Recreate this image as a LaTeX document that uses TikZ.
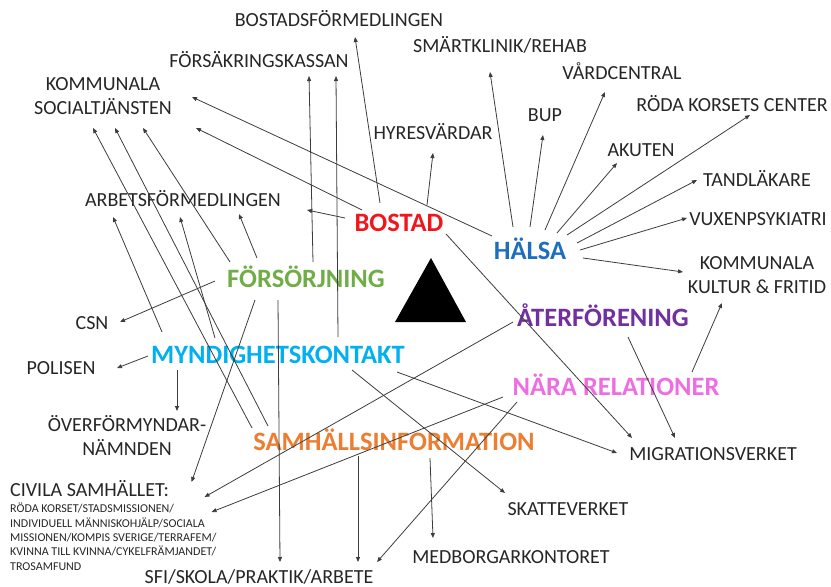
\documentclass[tikz,border=0pt]{standalone}
\usepackage{fontspec}
\setmainfont{Carlito}
\usetikzlibrary{arrows.meta}
\definecolor{labelgray}{RGB}{38,38,38}
\definecolor{linegray}{RGB}{60,60,60}
\definecolor{cbostad}{RGB}{240,22,30}
\definecolor{chalsa}{RGB}{30,110,190}
\definecolor{cfors}{RGB}{112,173,71}
\definecolor{cmynd}{RGB}{0,176,240}
\definecolor{cater}{RGB}{112,48,160}
\definecolor{cnara}{RGB}{238,110,226}
\definecolor{csamh}{RGB}{237,125,49}
\tikzset{
  lbl/.style={font=\fontsize{20}{24}\selectfont, text=labelgray, inner sep=0pt, text height=13pt, text depth=0pt},
  lbltwo/.style={font=\fontsize{20}{24}\selectfont, text=labelgray, inner sep=0pt, align=center},
  hub/.style={font=\bfseries\fontsize{26.5}{30}\selectfont, inner sep=0pt, text height=17pt, text depth=0pt},
  arr/.style={draw=linegray, line width=0.8pt, -{Triangle[length=5pt,width=4pt]}}
}
\begin{document}
\begin{tikzpicture}[x=1pt,y=-1pt]
\useasboundingbox (0,0) rectangle (831,587);
% labels
\node[lbl] (bfm) at (339,20) {BOSTADSFÖRMEDLINGEN};
\node[lbl] (smart) at (500,46) {SMÄRTKLINIK/REHAB};
\node[lbl] (fk) at (259,61) {FÖRSÄKRINGSKASSAN};
\node[lbltwo] (kso) at (103,96) {KOMMUNALA\\SOCIALTJÄNSTEN};
\node[lbl] (vard) at (622,73) {VÅRDCENTRAL};
\node[lbl] (rkc) at (732,105) {RÖDA KORSETS CENTER};
\node[lbl] (bup) at (545,115) {BUP};
\node[lbl] (hyres) at (433,133) {HYRESVÄRDAR};
\node[lbl] (akuten) at (641,150) {AKUTEN};
\node[lbl] (tand) at (757,180) {TANDLÄKARE};
\node[lbl] (vuxen) at (758,219) {VUXENPSYKIATRI};
\node[lbltwo] (kkf) at (757,275) {KOMMUNALA\\KULTUR \& FRITID};
\node[lbl] (arbf) at (183,200) {ARBETSFÖRMEDLINGEN};
\node[lbl] (csn) at (92,323) {CSN};
\node[lbl] (polis) at (61,368) {POLISEN};
\node[lbltwo] (overf) at (127,435) {ÖVERFÖRMYNDAR-\\NÄMNDEN};
\node[lbl] (migr) at (713,454) {MIGRATIONSVERKET};
\node[lbl, anchor=west] (civ) at (10,490) {CIVILA SAMHÄLLET:};
\node[font=\fontsize{12}{14.3}\selectfont, text=labelgray, inner sep=0pt, align=left, anchor=north west] (civtxt) at (10,503) {RÖDA KORSET/STADSMISSIONEN/\\INDIVIDUELL MÄNNISKOHJÄLP/SOCIALA\\MISSIONEN/KOMPIS SVERIGE/TERRAFEM/\\KVINNA TILL KVINNA/CYKELFRÄMJANDET/\\TROSAMFUND};
\node[lbl] (skatt) at (568,509) {SKATTEVERKET};
\node[lbl] (medb) at (511,557) {MEDBORGARKONTORET};
\node[lbl] (sfi) at (259,577) {SFI/SKOLA/PRAKTIK/ARBETE};
% hubs
\node[hub, text=cbostad] (bostad) at (399,223) {BOSTAD};
\node[hub, text=chalsa] (halsa) at (530,251) {HÄLSA};
\node[hub, text=cfors] (fors) at (306,279) {FÖRSÖRJNING};
\node[hub, text=cater] (ater) at (603,318) {ÅTERFÖRENING};
\node[hub, text=cmynd] (mynd) at (278,355) {MYNDIGHETSKONTAKT};
\node[hub, text=cnara] (nara) at (616,387) {NÄRA RELATIONER};
\node[hub, text=csamh] (samh) at (394,442) {SAMHÄLLSINFORMATION};
% triangle
\fill[black] (431,258) -- (395,322) -- (466,322) -- cycle;
% connectors
\draw[arr] ([shift={(-19,-20)}]bostad.center) -- ([shift={(16,17)}]bfm.center);
\draw[arr] ([shift={(7,-17)}]fors.center) -- ([shift={(50,15)}]fk.center);
\draw[arr] ([shift={(60,-18)}]mynd.center) -- ([shift={(77,15)}]fk.center);
\draw[arr] ([shift={(-38,-15)}]halsa.center) -- ([shift={(89,1)}]kso.center);
\draw[arr] ([shift={(-37,-13)}]bostad.center) -- ([shift={(93,32)}]kso.center);
\draw[arr] ([shift={(-76,-17)}]fors.center) -- ([shift={(40,32)}]kso.center);
\draw[arr] ([shift={(-142,-14)}]samh.center) -- ([shift={(-10,32)}]kso.center);
\draw[arr] ([shift={(-126,-16)}]samh.center) -- ([shift={(12,32)}]kso.center);
\draw[arr] ([shift={(-54,-5)}]bostad.center) -- ([shift={(124,10)}]arbf.center);
\draw[arr] ([shift={(-49,-21)}]fors.center) -- ([shift={(56,14)}]arbf.center);
\draw[arr] ([shift={(-116,-23)}]mynd.center) -- ([shift={(-70,17)}]arbf.center);
\draw[arr] ([shift={(-63,-17)}]mynd.center) -- ([shift={(-3,17)}]arbf.center);
\draw[arr] ([shift={(-91,2)}]fors.center) -- ([shift={(28,-1)}]csn.center);
\draw[arr] ([shift={(-130,1)}]mynd.center) -- ([shift={(56,0)}]polis.center);
\draw[arr] ([shift={(-101,15)}]mynd.center) -- ([shift={(50,-24)}]overf.center);
\draw[arr] ([shift={(-51,21)}]fors.center) -- ([shift={(102,-8)}]civ.center);
\draw[arr] ([shift={(-90,4)}]ater.center) -- ([shift={(115,7)}]civ.center);
\draw[arr] ([shift={(-113,10)}]nara.center) -- ([shift={(122,22)}]civ.center);
\draw[arr] ([shift={(-28,21)}]fors.center) -- ([shift={(21,-15)}]sfi.center);
\draw[arr] ([shift={(-36,14)}]samh.center) -- ([shift={(99,-15)}]sfi.center);
\draw[arr] ([shift={(-99,15)}]nara.center) -- ([shift={(118,-15)}]sfi.center);
\draw[arr] ([shift={(36,16)}]samh.center) -- ([shift={(-78,-19)}]medb.center);
\draw[arr] ([shift={(74,15)}]mynd.center) -- ([shift={(-63,-16)}]skatt.center);
\draw[arr] ([shift={(119,17)}]mynd.center) -- ([shift={(-96,-1)}]migr.center);
\draw[arr] ([shift={(47,11)}]bostad.center) -- ([shift={(-81,-16)}]migr.center);
\draw[arr] ([shift={(25,19)}]ater.center) -- ([shift={(-38,-16)}]migr.center);
\draw[arr] ([shift={(76,-15)}]nara.center) -- ([shift={(-35,28)}]kkf.center);
\draw[arr] ([shift={(53,7)}]halsa.center) -- ([shift={(-74,-3)}]kkf.center);
\draw[arr] ([shift={(-17,-24)}]halsa.center) -- ([shift={(-10,26)}]smart.center);
\draw[arr] ([shift={(0,-24)}]halsa.center) -- ([shift={(-2,20)}]bup.center);
\draw[arr] ([shift={(15,-21)}]halsa.center) -- ([shift={(-17,19)}]vard.center);
\draw[arr] ([shift={(27,-18)}]halsa.center) -- ([shift={(-24,13)}]akuten.center);
\draw[arr] ([shift={(37,-16)}]halsa.center) -- ([shift={(18,10)}]rkc.center);
\draw[arr] ([shift={(47,-8)}]halsa.center) -- ([shift={(-60,0)}]tand.center);
\draw[arr] ([shift={(50,-1)}]halsa.center) -- ([shift={(-71,-1)}]vuxen.center);
\draw[arr] ([shift={(28,-18)}]bostad.center) -- ([shift={(0,20)}]hyres.center);
\end{tikzpicture}
\end{document}
